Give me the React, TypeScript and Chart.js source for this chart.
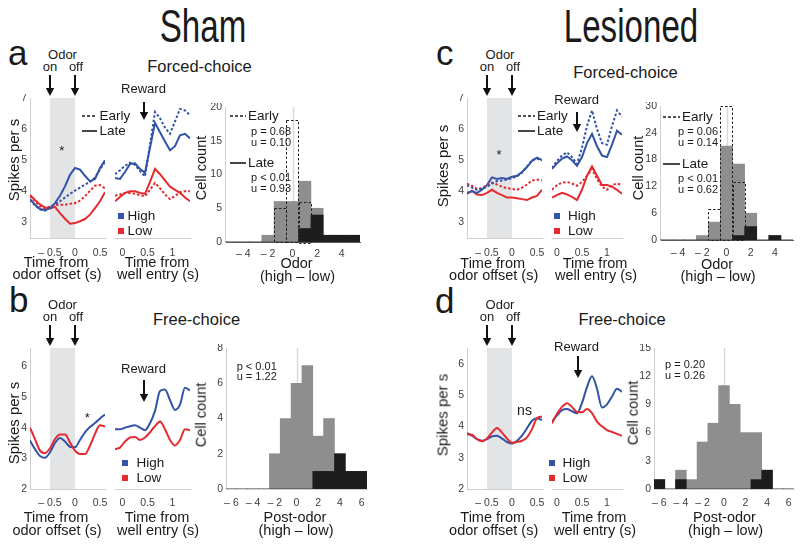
import React, { useEffect, useRef } from "react";
import { Chart, registerables } from "chart.js";
Chart.register(...registerables);

const FONT = "'Liberation Sans', Arial, Helvetica, sans-serif";
Chart.defaults.font.family = FONT;

const BLUE = "#3253a6";
const RED = "#e52a2f";
const BAND = "#e3e4e6";
const AXIS = "#cfcfcf";
const HAXIS = "#5a5a5a";
const ZERO = "#d9d9d9";
const TICK = "#3d3d3d";
const HGRAY = "#8e8e8e";
const HBLACK = "#1d1d1d";
const INK = "#1a1a1a";

// ---------- time axes & ticks ----------
const odorTime = [-0.9, -0.8, -0.7, -0.6, -0.5, -0.4, -0.3, -0.2, -0.1, 0, 0.1, 0.2, 0.3, 0.4, 0.5, 0.6];
const wellTimeSham = [-0.15, -0.05, 0.05, 0.15, 0.25, 0.35, 0.45, 0.55, 0.65, 0.75, 0.85, 0.95, 1.05, 1.15, 1.25, 1.35];
const wellTimeLes = [-0.1, 0, 0.1, 0.2, 0.3, 0.4, 0.5, 0.6, 0.7, 0.8, 0.9, 1.0, 1.1, 1.2, 1.3];
const odorTicks = [-0.5, 0, 0.5];
const wellTicks = [0, 0.5, 1];
const spikeTicksForced = [3, 4, 5, 6, 7];
const spikeTicksFree = [2, 3, 4, 5, 6];
const odorOn = -0.5;
const odorOff = 0;

// ---------- a: Sham, forced-choice ----------
const aOdorHighLate = [3.75, 3.57, 3.43, 3.39, 3.46, 3.62, 3.86, 4.16, 4.53, 4.75, 4.7, 4.5, 4.32, 4.4, 4.75, 5.0];
const aOdorHighEarly = [3.72, 3.55, 3.42, 3.38, 3.48, 3.58, 3.68, 3.8, 3.92, 4.02, 4.12, 4.22, 4.3, 4.45, 4.7, 4.95];
const aOdorLowLate = [3.88, 3.72, 3.58, 3.48, 3.45, 3.5, 3.3, 3.12, 2.96, 2.98, 3.04, 3.11, 3.25, 3.46, 3.68, 3.97];
const aOdorLowEarly = [3.85, 3.68, 3.52, 3.45, 3.52, 3.56, 3.57, 3.57, 3.6, 3.62, 3.7, 3.84, 4.02, 4.18, 4.2, 4.1];
const aWellHighLate = [4.43, 4.4, 4.62, 4.88, 4.9, 4.72, 4.6, 5.4, 6.2, 5.9, 5.6, 5.32, 5.45, 5.8, 5.85, 5.7];
const aWellHighEarly = [4.55, 4.68, 4.82, 4.92, 4.85, 4.65, 4.48, 5.5, 6.55, 6.35, 6.05, 5.85, 6.25, 6.65, 6.6, 6.45];
const aWellLowLate = [3.68, 3.82, 3.95, 4.0, 4.0, 3.95, 3.92, 4.3, 4.72, 4.55, 4.35, 4.15, 4.05, 3.95, 3.8, 3.68];
const aWellLowEarly = [3.86, 3.9, 3.95, 3.95, 3.92, 3.88, 3.84, 4.05, 4.27, 4.1, 3.9, 3.75, 3.85, 3.97, 4.0, 4.0];

// ---------- b: Sham, free-choice ----------
const bOdorHigh = [3.58, 3.3, 3.08, 3.02, 3.2, 3.5, 3.66, 3.55, 3.38, 3.36, 3.6, 3.85, 4.02, 4.15, 4.3, 4.43];
const bOdorLow = [4.0, 3.63, 3.25, 3.17, 3.33, 3.63, 3.78, 3.78, 3.52, 3.25, 3.14, 3.14, 3.41, 3.8, 4.08, 4.04];
const bWellHigh = [3.95, 3.95, 4.0, 4.05, 4.08, 4.0, 3.92, 4.15, 4.55, 5.2, 5.25, 4.9, 4.58, 4.75, 5.3, 5.22];
const bWellLow = [3.3, 3.35, 3.55, 3.68, 3.7, 3.6, 3.68, 3.85, 4.05, 4.2, 3.95, 3.6, 3.42, 3.6, 3.95, 3.92];

// ---------- c: Lesioned, forced-choice ----------
const cOdorHighLate = [3.95, 4.0, 3.95, 4.05, 4.2, 4.45, 4.4, 4.43, 4.4, 4.47, 4.5, 4.62, 4.78, 4.98, 5.08, 5.0];
const cOdorHighEarly = [4.2, 4.12, 4.05, 4.08, 4.15, 4.25, 4.33, 4.35, 4.38, 4.42, 4.48, 4.6, 4.8, 5.0, 5.05, 5.0];
const cOdorLowLate = [3.92, 4.02, 3.9, 3.88, 3.95, 4.05, 3.95, 3.88, 3.8, 3.8, 3.78, 3.75, 3.72, 3.8, 3.85, 4.05];
const cOdorLowEarly = [4.25, 4.18, 4.08, 4.1, 4.2, 4.28, 4.22, 4.15, 4.1, 4.08, 4.05, 4.12, 4.22, 4.35, 4.38, 4.35];
const cWellHighLate = [4.72, 4.9, 5.05, 5.12, 5.0, 4.82, 5.1, 5.55, 5.85, 5.45, 5.15, 5.1, 5.5, 5.95, 5.82];
const cWellHighEarly = [4.75, 4.98, 5.15, 5.25, 5.1, 4.88, 5.4, 6.1, 6.6, 6.0, 5.55, 5.5, 6.1, 6.6, 6.4];
const cWellLowLate = [3.8, 3.88, 3.95, 3.9, 3.82, 3.72, 4.05, 4.5, 4.8, 4.5, 4.2, 4.2, 4.15, 4.05, 3.92];
const cWellLowEarly = [4.05, 4.2, 4.28, 4.3, 4.25, 4.18, 4.3, 4.5, 4.72, 4.4, 4.15, 4.05, 4.2, 4.25, 4.2];

// ---------- d: Lesioned, free-choice ----------
const dOdorHigh = [3.78, 3.7, 3.59, 3.54, 3.59, 3.68, 3.7, 3.61, 3.5, 3.45, 3.54, 3.7, 3.94, 4.18, 4.26, 4.2];
const dOdorLow = [3.75, 3.73, 3.59, 3.52, 3.61, 3.8, 3.95, 3.8, 3.61, 3.48, 3.5, 3.54, 3.65, 3.91, 4.26, 4.31];
const dWellHigh = [4.15, 4.35, 4.52, 4.55, 4.48, 4.42, 4.75, 5.25, 5.6, 5.2, 4.6, 4.7, 4.95, 5.2, 5.1];
const dWellLow = [4.1, 4.4, 4.62, 4.74, 4.62, 4.46, 4.45, 4.55, 4.42, 4.15, 4.0, 3.88, 3.82, 3.76, 3.7];

// ---------- histograms ----------
const binsForced = [-5, -4, -3, -2, -1, 0, 1, 2, 3, 4, 5];
const binsFree = [-6, -5, -4, -3, -2, -1, 0, 1, 2, 3, 4, 5, 6];
const histTicksForced = [-4, -2, 0, 2, 4];
const histTicksFree = [-6, -4, -2, 0, 2, 4, 6];
const countTicksA = [0, 5, 10, 15, 20];
const countTicksB = [0, 2, 4, 6, 8];
const countTicksC = [0, 6, 12, 18, 24, 30];
const countTicksD = [0, 3, 6, 9, 12, 15];

const aLateCounts = [0, 0, 0, 1, 6, 6, 9, 5, 1, 1, 1];
const aLateSig = [0, 0, 0, 0, 0, 0, 2, 4, 1, 1, 1];
const aEarlyCounts = [0, 0, 0, 0, 5, 18, 6, 0, 0, 0, 0];
const cLateCounts = [0, 0, 0, 1, 4, 21, 17, 6, 0, 1, 0];
const cLateSig = [0, 0, 0, 0, 0, 0, 1, 3, 0, 1, 0];
const cEarlyCounts = [0, 0, 0, 0, 7, 30, 13, 0, 0, 0, 0];
const bCounts = [0, 0, 0, 0, 2, 4, 6, 7, 3, 4, 2, 1, 1];
const bSig = [0, 0, 0, 0, 0, 0, 0, 0, 1, 1, 2, 1, 1];
const dCounts = [1, 0, 2, 1, 5, 7, 11, 9, 6, 6, 2, 0, 0];
const dSig = [1, 0, 1, 0, 0, 0, 0, 0, 0, 1, 2, 0, 0];

// ---------- layout helpers ----------
type Rect = { x: number; y: number; w: number; h: number };
const PADL = 34, PADT = 4, PADR = 6, PADB = 28, YW = 30, XH = 26;

function tickFmt(v: number): string {
  const s = String(Math.abs(v));
  return v < 0 ? "\u2013 " + s : s;
}

const tickFont = { size: 10.5, family: FONT };

function xScale(min: number, max: number, ticks: number[], pad: number, axisColor: string) {
  return {
    type: "linear", min, max, offset: false,
    afterBuildTicks: (s: any) => { s.ticks = ticks.map((v) => ({ value: v })); },
    afterFit: (s: any) => { s.height = XH; s.paddingLeft = 0; s.paddingRight = 0; },
    grid: { display: false, drawTicks: false },
    border: { display: true, color: axisColor, width: 1 },
    ticks: { padding: pad, color: TICK, font: tickFont, maxRotation: 0, minRotation: 0, autoSkip: false, callback: (v: any) => tickFmt(Number(v)) },
  };
}

function yScale(min: number, max: number, ticks: number[] | null) {
  if (!ticks) return { type: "linear", display: false, min, max };
  return {
    type: "linear", min, max,
    afterBuildTicks: (s: any) => { s.ticks = ticks.map((v) => ({ value: v })); },
    afterFit: (s: any) => { s.width = YW; s.paddingTop = 0; s.paddingBottom = 0; },
    grid: { display: false, drawTicks: false },
    border: { display: true, color: AXIS, width: 1 },
    ticks: { padding: 3, color: TICK, font: tickFont, autoSkip: false, callback: (v: any) => tickFmt(Number(v)) },
  };
}

const baseOpts = (scales: any) => ({
  responsive: false, animation: false, devicePixelRatio: 1, events: [],
  plugins: { legend: { display: false }, tooltip: { enabled: false } },
  scales,
});

const bandPlugin = {
  id: "odorBand",
  beforeDatasetsDraw(chart: any) {
    const { ctx, chartArea, scales } = chart;
    const x1 = scales.x.getPixelForValue(odorOn);
    const x2 = scales.x.getPixelForValue(odorOff);
    ctx.save();
    ctx.fillStyle = BAND;
    ctx.fillRect(x1, chartArea.top, x2 - x1, chartArea.bottom - chartArea.top);
    ctx.restore();
  },
};

const zeroPlugin = {
  id: "zeroLine",
  beforeDatasetsDraw(chart: any) {
    const { ctx, chartArea, scales } = chart;
    const x = Math.round(scales.x.getPixelForValue(0)) + 0.5;
    ctx.save();
    ctx.strokeStyle = ZERO;
    ctx.lineWidth = 1.5;
    ctx.beginPath();
    ctx.moveTo(x, chartArea.top);
    ctx.lineTo(x, chartArea.bottom);
    ctx.stroke();
    ctx.restore();
  },
};

const dashPlugin = {
  id: "earlyDash",
  afterDatasetsDraw(chart: any) {
    if (chart.data.datasets.length < 3) return;
    const { ctx } = chart;
    const meta = chart.getDatasetMeta(2);
    const vals = chart.data.datasets[2].data;
    ctx.save();
    ctx.setLineDash([2.5, 2]);
    ctx.strokeStyle = "#222";
    ctx.lineWidth = 1;
    meta.data.forEach((bar: any, i: number) => {
      if (!vals[i].y) return;
      const p = bar.getProps(["x", "y", "base", "width"], true);
      ctx.strokeRect(Math.round(p.x - p.width / 2) + 0.5, Math.round(p.y) + 0.5, Math.round(p.width), Math.round(p.base - p.y));
    });
    ctx.restore();
  },
};

type Series = { t: number[]; v: number[]; color: string; dash?: boolean };

function lineConfig(series: Series[], xr: [number, number], xt: number[], yr: [number, number], yt: number[] | null, band: boolean, smooth: boolean, xpad: number) {
  return {
    type: "line",
    data: {
      datasets: series.map((s) => ({
        data: s.t.map((x, i) => ({ x, y: s.v[i] })),
        borderColor: s.color, borderWidth: 2, borderDash: s.dash ? [2.5, 2] : [],
        pointRadius: 0, fill: false,
        tension: smooth ? 0.4 : 0,
        cubicInterpolationMode: smooth ? "monotone" : "default",
      })),
    },
    options: baseOpts({ x: xScale(xr[0], xr[1], xt, xpad, AXIS), y: yScale(yr[0], yr[1], yt) }),
    plugins: band ? [bandPlugin] : [],
  };
}

function histConfig(bins: number[], total: number[], sig: number[], early: number[] | null, xr: [number, number], xt: number[], ymax: number, yt: number[], xpad: number, axisColor: string) {
  const common = { borderWidth: 0, grouped: false, barPercentage: 1, categoryPercentage: 1 };
  const ds: any[] = [
    { ...common, data: bins.map((b, i) => ({ x: b, y: sig[i] })), backgroundColor: HBLACK, order: 1 },
    { ...common, data: bins.map((b, i) => ({ x: b, y: total[i] })), backgroundColor: HGRAY, order: 2 },
  ];
  if (early) ds.push({ ...common, data: bins.map((b, i) => ({ x: b, y: early[i] })), backgroundColor: "rgba(0,0,0,0)", order: 3 });
  return {
    type: "bar",
    data: { datasets: ds },
    options: baseOpts({ x: xScale(xr[0], xr[1], xt, xpad, axisColor), y: yScale(0, ymax, yt) }),
    plugins: [zeroPlugin, dashPlugin],
  };
}

function Plot({ rect, yAxis, make }: { rect: Rect; yAxis: boolean; make: () => any }) {
  const ref = useRef<HTMLCanvasElement | null>(null);
  useEffect(() => {
    const cfg = make();
    cfg.options.layout = { padding: { left: yAxis ? PADL - YW : PADL, top: PADT, right: PADR, bottom: PADB - XH } };
    const chart = new Chart(ref.current as HTMLCanvasElement, cfg);
    return () => chart.destroy();
  }, []);
  const W = rect.w + PADL + PADR;
  const H = rect.h + PADT + PADB;
  return (
    <canvas ref={ref} width={W} height={H}
      style={{ position: "absolute", left: rect.x - PADL, top: rect.y - PADT, width: W, height: H }} />
  );
}

// ---------- text helpers ----------
function T({ x, y, s, a = "left", c = INK, sx, children }: { x: number; y: number; s: number; a?: string; c?: string; sx?: number; children: any }) {
  const tx = a === "center" ? "-50%" : a === "right" ? "-100%" : "0";
  return (
    <div style={{
      position: "absolute", left: x, top: y - 0.8465 * s, fontSize: s, lineHeight: `${s}px`,
      fontFamily: FONT, color: c, whiteSpace: "nowrap",
      transform: `translateX(${tx})${sx ? ` scaleX(${sx})` : ""}`,
    }}>{children}</div>
  );
}

function VT({ cx, cy, s, children }: { cx: number; cy: number; s: number; children: any }) {
  return (
    <div style={{
      position: "absolute", left: cx, top: cy, fontSize: s, lineHeight: `${s}px`, fontFamily: FONT,
      color: INK, whiteSpace: "nowrap", transform: "translate(-50%,-50%) rotate(-90deg)",
    }}>{children}</div>
  );
}

function Arrow({ x, y1, y2 }: { x: number; y1: number; y2: number }) {
  const h = y2 - y1;
  return (
    <svg style={{ position: "absolute", left: x - 6, top: y1, overflow: "visible" }} width={12} height={h}>
      <line x1={6} y1={0} x2={6} y2={h - 6} stroke="#111" strokeWidth={2} />
      <polygon points={`1.8,${h - 8} 10.2,${h - 8} 6,${h}`} fill="#111" />
    </svg>
  );
}

function LegLine({ x1, x2, y, dash }: { x1: number; x2: number; y: number; dash?: boolean }) {
  return (
    <svg style={{ position: "absolute", left: x1, top: y - 2, overflow: "visible" }} width={x2 - x1} height={4}>
      <line x1={0} y1={2} x2={x2 - x1} y2={2} stroke={INK} strokeWidth={1.6} strokeDasharray={dash ? "3 2" : undefined} />
    </svg>
  );
}

function Sq({ x, y, c }: { x: number; y: number; c: string }) {
  return <div style={{ position: "absolute", left: x, top: y, width: 6, height: 6, background: c }} />;
}

function OdorMarks({ cx, on, off, yOdor, yArrow }: { cx: number; on: number; off: number; yOdor: number; yArrow: number }) {
  return (
    <>
      <T x={cx} y={yOdor} s={13} a="center">Odor</T>
      <T x={on} y={yOdor + 12} s={13} a="center">on</T>
      <T x={off + 1} y={yOdor + 12} s={13} a="center">off</T>
      <Arrow x={on} y1={yArrow} y2={yArrow + 21} />
      <Arrow x={off} y1={yArrow} y2={yArrow + 21} />
    </>
  );
}

function HighLow({ sx, tx, y }: { sx: number; tx: number; y: number }) {
  return (
    <>
      <Sq x={sx} y={y - 7} c={BLUE} />
      <T x={tx} y={y} s={13.5}>High</T>
      <Sq x={sx} y={y + 8} c={RED} />
      <T x={tx} y={y + 15} s={13.5}>Low</T>
    </>
  );
}

function EarlyLate({ x1, x2, tx, y1, y2 }: { x1: number; x2: number; tx: number; y1: number; y2: number }) {
  return (
    <>
      <LegLine x1={x1} x2={x2} y={y1 - 4} dash />
      <T x={tx} y={y1} s={13.5}>Early</T>
      <LegLine x1={x1} x2={x2} y={y2 - 4} />
      <T x={tx} y={y2} s={13.5}>Late</T>
    </>
  );
}

function XTitle({ cx, y, l1, l2 }: { cx: number; y: number; l1: string; l2: string }) {
  return (
    <>
      <T x={cx} y={y} s={14.5} a="center">{l1}</T>
      <T x={cx + 1} y={y + 12.5} s={14.5} a="center">{l2}</T>
    </>
  );
}

// ---------- plot rectangles ----------
const rA1: Rect = { x: 30, y: 98, w: 75, h: 140 };
const rA2: Rect = { x: 115, y: 98, w: 75, h: 140 };
const rAH: Rect = { x: 225, y: 107, w: 135, h: 135 };
const rB1: Rect = { x: 30, y: 348, w: 75, h: 141 };
const rB2: Rect = { x: 115, y: 348, w: 75, h: 141 };
const rBH: Rect = { x: 226, y: 348, w: 141, h: 141 };
const rC1: Rect = { x: 467, y: 98, w: 75, h: 140 };
const rC2: Rect = { x: 552, y: 98, w: 70, h: 140 };
const rCH: Rect = { x: 660, y: 106, w: 133, h: 134 };
const rD1: Rect = { x: 467, y: 348, w: 75, h: 141 };
const rD2: Rect = { x: 552, y: 348, w: 70, h: 141 };
const rDH: Rect = { x: 654, y: 348, w: 140, h: 141 };

export default function App() {
  const forcedY: [number, number] = [2.5, 7];
  const freeYb: [number, number] = [2, 6.6];
  const freeYd: [number, number] = [2, 6.5];
  const odorX: [number, number] = [-0.9, 0.6];
  const wellXs: [number, number] = [-0.15, 1.35];
  const wellXl: [number, number] = [-0.1, 1.3];

  return (
    <div style={{ position: "absolute", left: 0, top: 0, width: 800, height: 546, overflow: "hidden", background: "#fff", fontFamily: FONT }}>
      {/* ---------- charts ---------- */}
      <Plot rect={rA1} yAxis make={() => lineConfig([
        { t: odorTime, v: aOdorHighEarly, color: BLUE, dash: true },
        { t: odorTime, v: aOdorLowEarly, color: RED, dash: true },
        { t: odorTime, v: aOdorHighLate, color: BLUE },
        { t: odorTime, v: aOdorLowLate, color: RED },
      ], odorX, odorTicks, forcedY, spikeTicksForced, true, false, 9)} />
      <Plot rect={rA2} yAxis={false} make={() => lineConfig([
        { t: wellTimeSham, v: aWellHighEarly, color: BLUE, dash: true },
        { t: wellTimeSham, v: aWellLowEarly, color: RED, dash: true },
        { t: wellTimeSham, v: aWellHighLate, color: BLUE },
        { t: wellTimeSham, v: aWellLowLate, color: RED },
      ], wellXs, wellTicks, forcedY, null, false, false, 9)} />
      <Plot rect={rAH} yAxis make={() => histConfig(binsForced, aLateCounts, aLateSig, aEarlyCounts, [-5.5, 5.5], histTicksForced, 20, countTicksA, 5.5, HAXIS)} />

      <Plot rect={rB1} yAxis make={() => lineConfig([
        { t: odorTime, v: bOdorLow, color: RED },
        { t: odorTime, v: bOdorHigh, color: BLUE },
      ], odorX, odorTicks, freeYb, spikeTicksFree, true, true, 7.5)} />
      <Plot rect={rB2} yAxis={false} make={() => lineConfig([
        { t: wellTimeSham, v: bWellLow, color: RED },
        { t: wellTimeSham, v: bWellHigh, color: BLUE },
      ], wellXs, wellTicks, freeYb, null, false, true, 7.5)} />
      <Plot rect={rBH} yAxis make={() => histConfig(binsFree, bCounts, bSig, null, [-6.5, 6.5], histTicksFree, 8, countTicksB, 8, AXIS)} />

      <Plot rect={rC1} yAxis make={() => lineConfig([
        { t: odorTime, v: cOdorHighEarly, color: BLUE, dash: true },
        { t: odorTime, v: cOdorLowEarly, color: RED, dash: true },
        { t: odorTime, v: cOdorHighLate, color: BLUE },
        { t: odorTime, v: cOdorLowLate, color: RED },
      ], odorX, odorTicks, forcedY, spikeTicksForced, true, false, 9)} />
      <Plot rect={rC2} yAxis={false} make={() => lineConfig([
        { t: wellTimeLes, v: cWellHighEarly, color: BLUE, dash: true },
        { t: wellTimeLes, v: cWellLowEarly, color: RED, dash: true },
        { t: wellTimeLes, v: cWellHighLate, color: BLUE },
        { t: wellTimeLes, v: cWellLowLate, color: RED },
      ], wellXl, wellTicks, forcedY, null, false, false, 9)} />
      <Plot rect={rCH} yAxis make={() => histConfig(binsForced, cLateCounts, cLateSig, cEarlyCounts, [-5.5, 5.5], histTicksForced, 30, countTicksC, 7, HAXIS)} />

      <Plot rect={rD1} yAxis make={() => lineConfig([
        { t: odorTime, v: dOdorLow, color: RED },
        { t: odorTime, v: dOdorHigh, color: BLUE },
      ], odorX, odorTicks, freeYd, spikeTicksFree, true, true, 7.5)} />
      <Plot rect={rD2} yAxis={false} make={() => lineConfig([
        { t: wellTimeLes, v: dWellLow, color: RED },
        { t: wellTimeLes, v: dWellHigh, color: BLUE },
      ], wellXl, wellTicks, freeYd, null, false, true, 7.5)} />
      <Plot rect={rDH} yAxis make={() => histConfig(binsFree, dCounts, dSig, null, [-6.5, 6.5], histTicksFree, 15, countTicksD, 8, AXIS)} />

      {/* ---------- headings ---------- */}
      <T x={203} y={42} s={46} a="center" sx={0.72}>Sham</T>
      <T x={631} y={42} s={46} a="center" sx={0.72}>Lesioned</T>
      <T x={8} y={65} s={35}>a</T>
      <T x={9} y={312} s={35}>b</T>
      <T x={436} y={65} s={35}>c</T>
      <T x={435} y={313} s={35}>d</T>
      <T x={199.5} y={72} s={16.5} a="center">Forced-choice</T>
      <T x={625.5} y={78} s={16.5} a="center">Forced-choice</T>
      <T x={196.5} y={325} s={16.5} a="center">Free-choice</T>
      <T x={622} y={325} s={16.5} a="center">Free-choice</T>

      {/* ---------- odor on/off & reward ---------- */}
      <OdorMarks cx={62.5} on={50} off={75} yOdor={59} yArrow={75} />
      <OdorMarks cx={62.5} on={50} off={75} yOdor={309} yArrow={325} />
      <OdorMarks cx={500} on={487} off={512} yOdor={59} yArrow={75} />
      <OdorMarks cx={500} on={487} off={512} yOdor={309} yArrow={325} />
      <T x={143.5} y={93} s={13} a="center">Reward</T>
      <Arrow x={144} y1={102} y2={120} />
      <T x={143.5} y={373} s={13} a="center">Reward</T>
      <Arrow x={144} y1={380} y2={402} />
      <T x={576.7} y={104} s={13} a="center">Reward</T>
      <Arrow x={577} y1={112} y2={132} />
      <T x={576.5} y={351} s={13} a="center">Reward</T>
      <Arrow x={577.5} y1={356} y2={378} />

      {/* ---------- in-plot legends & marks ---------- */}
      <EarlyLate x1={82} x2={97} tx={99.5} y1={120} y2={135} />
      <EarlyLate x1={518} x2={535} tx={537} y1={120} y2={135} />
      <HighLow sx={118} tx={127.5} y={220} />
      <HighLow sx={122} tx={136.5} y={467} />
      <HighLow sx={554} tx={568} y={220} />
      <HighLow sx={548.5} tx={562.5} y={467} />
      <T x={61.7} y={155} s={13} a="center">*</T>
      <T x={87.3} y={422} s={13} a="center">*</T>
      <T x={499} y={159} s={13} a="center">*</T>
      <T x={524.5} y={415} s={14} a="center">ns</T>

      {/* histogram legends */}
      <EarlyLate x1={230} x2={246} tx={248} y1={120} y2={167} />
      <T x={251} y={135} s={11}>p = 0.68</T>
      <T x={251} y={146} s={11}>u = 0.10</T>
      <T x={251} y={181.7} s={11}>p &lt; 0.01</T>
      <T x={251} y={192.3} s={11}>u = 0.93</T>
      <EarlyLate x1={663} x2={680} tx={682} y1={121} y2={168} />
      <T x={678} y={135} s={11}>p = 0.06</T>
      <T x={678} y={146.5} s={11}>u = 0.14</T>
      <T x={678} y={182.7} s={11}>p &lt; 0.01</T>
      <T x={678} y={193} s={11}>u = 0.62</T>
      <T x={236.7} y={370} s={11}>p &lt; 0.01</T>
      <T x={236.7} y={380.5} s={11}>u = 1.22</T>
      <T x={665} y={368.3} s={11}>p = 0.20</T>
      <T x={665} y={379} s={11}>u = 0.26</T>

      {/* ---------- axis titles ---------- */}
      <VT cx={12.5} cy={160} s={15}>Spikes per s</VT>
      <VT cx={12.5} cy={423} s={15}>Spikes per s</VT>
      <VT cx={441.5} cy={166} s={15}>Spikes per s</VT>
      <VT cx={441.5} cy={415} s={15}>Spikes per s</VT>
      <VT cx={201} cy={168} s={14.5}>Cell count</VT>
      <VT cx={201} cy={415} s={14.5}>Cell count</VT>
      <VT cx={637.5} cy={167.5} s={14.5}>Cell count</VT>
      <VT cx={632.5} cy={413} s={14.5}>Cell count</VT>

      <XTitle cx={56} y={267} l1="Time from" l2="odor offset (s)" />
      <XTitle cx={157} y={267} l1="Time from" l2="well entry (s)" />
      <XTitle cx={296.5} y={268.5} l1="Odor" l2="(high – low)" />
      <XTitle cx={56} y={522.7} l1="Time from" l2="odor offset (s)" />
      <XTitle cx={157} y={522.7} l1="Time from" l2="well entry (s)" />
      <XTitle cx={295} y={522.7} l1="Post-odor" l2="(high – low)" />
      <XTitle cx={492.7} y={268} l1="Time from" l2="odor offset (s)" />
      <XTitle cx={595} y={268} l1="Time from" l2="well entry (s)" />
      <XTitle cx={717} y={269} l1="Odor" l2="(high – low)" />
      <XTitle cx={492.7} y={522.7} l1="Time from" l2="odor offset (s)" />
      <XTitle cx={594} y={522.7} l1="Time from" l2="well entry (s)" />
      <XTitle cx={724.5} y={522.7} l1="Post-odor" l2="(high – low)" />
    </div>
  );
}
